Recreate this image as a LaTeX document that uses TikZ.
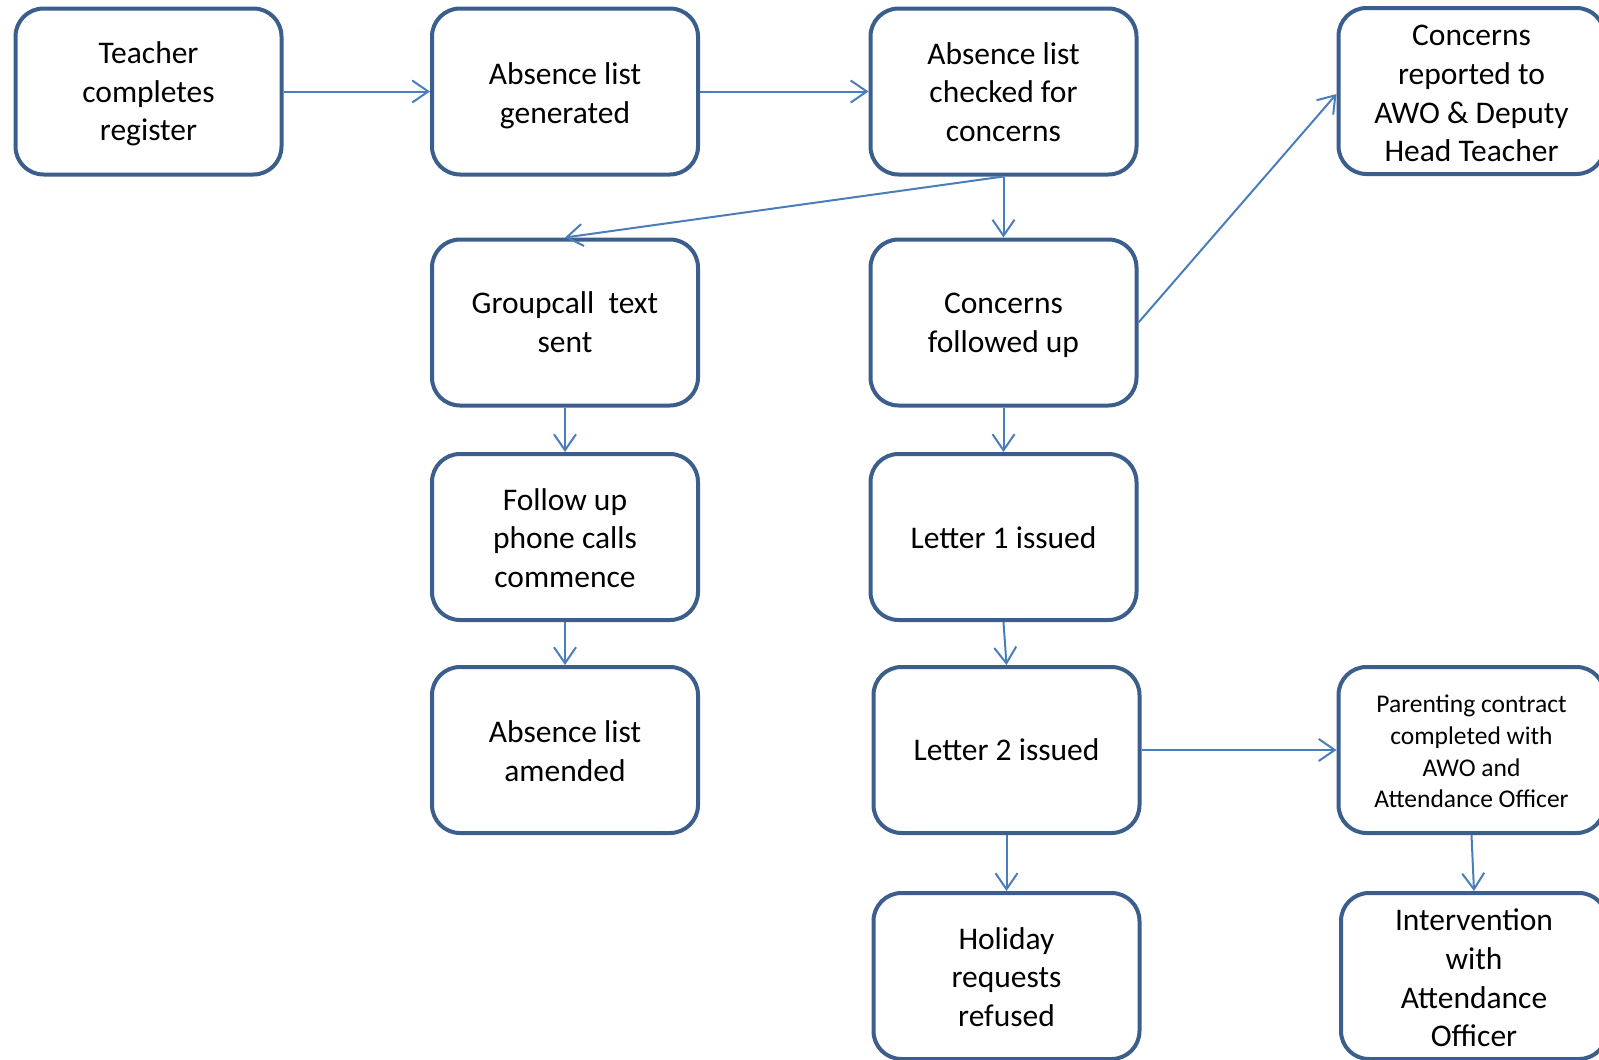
\documentclass[tikz,border=0pt]{standalone}
\usepackage{fontspec}
\setmainfont{Carlito}
\usetikzlibrary{arrows.meta}
\definecolor{boxc}{HTML}{3B5E8C}
\definecolor{arrc}{HTML}{4A7EBB}
\newcommand\lowtxt[2]{\raisebox{-#1}[\height][\depth]{\begin{tabular}{@{}c@{}}#2\end{tabular}}}
\begin{document}
\begin{tikzpicture}[x=1pt,y=-1pt,
  flowbox/.style={draw=boxc, line width=4pt, rounded corners=28pt, fill=white,
    minimum width=266pt, minimum height=166pt, inner sep=4pt,
    font=\fontsize{31.5}{38.7}\selectfont},
  smallbox/.style={flowbox, font=\fontsize{25.5}{31.6}\selectfont},
  conn/.style={draw=arrc, line width=2pt, -{Straight Barb[length=16pt,width=22pt,line width=2pt]}}]
\useasboundingbox (0,0) rectangle (1599,1060);
\clip (0,0) rectangle (1599,1060);
\node[flowbox] (t)   at (148.5,91.5) {\lowtxt{3pt}{Teacher\\completes\\register}};
\node[flowbox] (gen) at (565,91.5)   {\lowtxt{5pt}{Absence list\\generated}};
\node[flowbox] (chk) at (1003.5,91.5) {\lowtxt{3.5pt}{Absence list\\checked for\\concerns}};
\node[flowbox] (rep) at (1471.5,91)  {\lowtxt{5pt}{Concerns\\reported to\\AWO \& Deputy\\Head Teacher}};
\node[flowbox] (grp) at (565,322.5)  {\lowtxt{3pt}{Groupcall\ \ text\\sent}};
\node[flowbox] (fol) at (1003.5,322.5) {\lowtxt{3pt}{Concerns\\followed up}};
\node[flowbox] (ph)  at (565,537)    {\lowtxt{4pt}{Follow up\\phone calls\\commence}};
\node[flowbox] (l1)  at (1003.5,537) {\lowtxt{4pt}{Letter 1 issued}};
\node[flowbox] (am)  at (565,750)    {\lowtxt{4pt}{Absence list\\amended}};
\node[flowbox] (l2)  at (1006.5,750) {\lowtxt{3pt}{Letter 2 issued}};
\node[smallbox] (par) at (1471.5,750) {\lowtxt{4pt}{Parenting contract\\completed with\\AWO and\\Attendance Officer}};
\node[flowbox] (hol) at (1006.5,976) {\lowtxt{4pt}{Holiday\\requests\\refused}};
\node[flowbox] (int) at (1474,976)   {\lowtxt{5pt}{Intervention\\with\\Attendance\\Officer}};
\draw[conn] (t.east) -- (gen.west);
\draw[conn] (gen.east) -- (chk.west);
\draw[conn] (chk.south) -- (grp.north);
\draw[conn] (chk.south) -- (fol.north);
\draw[conn] (fol.east) -- ([yshift=-3pt]rep.west);
\draw[conn] (grp.south) -- (ph.north);
\draw[conn] (ph.south) -- (am.north);
\draw[conn] (fol.south) -- (l1.north);
\draw[conn] (l1.south) -- (l2.north);
\draw[conn] (l2.east) -- (par.west);
\draw[conn] (l2.south) -- (hol.north);
\draw[conn] (par.south) -- (int.north);
\end{tikzpicture}
\end{document}
